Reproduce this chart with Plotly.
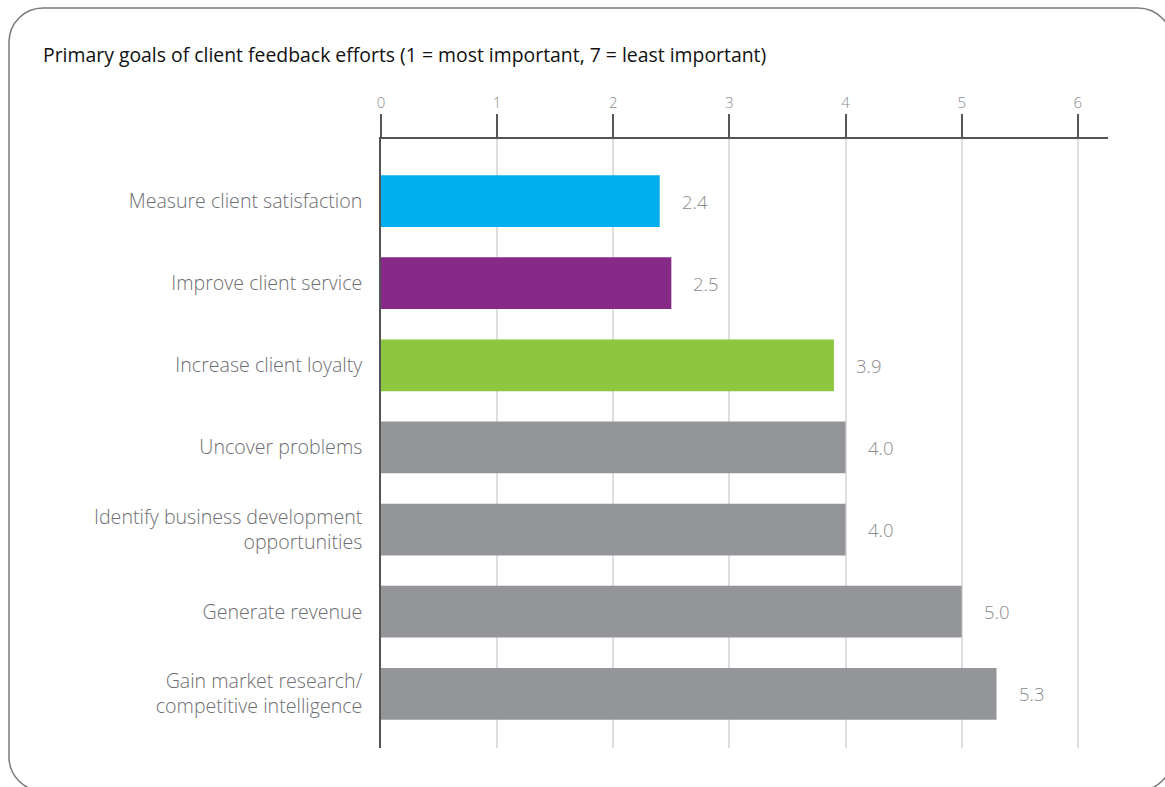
import plotly.graph_objects as go

# Survey results: average rank of each goal (1 = most important)
goals = [
    "Measure client satisfaction",
    "Improve client service",
    "Increase client loyalty",
    "Uncover problems",
    "Identify business development<br>opportunities",
    "Generate revenue",
    "Gain market research/<br>competitive intelligence",
]
avg_rank = [2.4, 2.5, 3.9, 4.0, 4.0, 5.0, 5.3]
bar_colors = ["#00ADEE", "#872A87", "#8DC63F", "#939598", "#939598", "#939598", "#939598"]
x_ticks = [0, 1, 2, 3, 4, 5, 6]

W, H = 1165, 787
L, R, T, B = 381, 1108, 139, 748  # plot area in pixels
FONT = "Open Sans"


def px(x):
    return (x - L) / (R - L)


def py(y):
    return 1 - (y - T) / (B - T)


fig = go.Figure()
fig.add_trace(go.Bar(
    x=avg_rank,
    y=goals,
    orientation="h",
    marker=dict(color=bar_colors, line=dict(width=0)),
    width=0.63,
    hoverinfo="x+y",
))

label_font = dict(family=FONT, size=18.5, color="#8a8b8e", weight=300)
for g, v in zip(goals, avg_rank):
    fig.add_annotation(
        x=v, y=g, text=f"{v:.1f}", showarrow=False,
        xanchor="left", yanchor="middle", xshift=20,
        font=label_font,
    )

# rounded frame around the panel
x0, y0, x1, y1, r = 9, 8, 1172, 791, 34
k = r * 0.5523
pts = [
    ("M", [(x0 + r, y0)]),
    ("L", [(x1 - r, y0)]),
    ("C", [(x1 - r + k, y0), (x1, y0 + r - k), (x1, y0 + r)]),
    ("L", [(x1, y1 - r)]),
    ("C", [(x1, y1 - r + k), (x1 - r + k, y1), (x1 - r, y1)]),
    ("L", [(x0 + r, y1)]),
    ("C", [(x0 + r - k, y1), (x0, y1 - r + k), (x0, y1 - r)]),
    ("L", [(x0, y0 + r)]),
    ("C", [(x0, y0 + r - k), (x0 + r - k, y0), (x0 + r, y0)]),
]
path = ""
for cmd, ps in pts:
    path += cmd + " ".join(f"{px(a):.5f},{py(b):.5f}" for a, b in ps) + " "
path += "Z"
fig.add_shape(type="path", path=path, xref="paper", yref="paper",
              line=dict(color="#7a7a7a", width=1.5), fillcolor="rgba(0,0,0,0)", layer="below")

fig.update_layout(
    width=W, height=H,
    margin=dict(l=L, r=W - R, t=T, b=H - B, pad=0),
    paper_bgcolor="white", plot_bgcolor="white",
    showlegend=False,
    bargap=0.37,
    title=dict(
        text="Primary goals of client feedback efforts (1 = most important, 7 = least important)",
        x=43 / W, y=1 - 55 / H, xref="container", yref="container",
        xanchor="left", yanchor="middle",
        font=dict(family=FONT, size=19.4, color="#111111"),
    ),
    xaxis=dict(
        side="top", range=[0, 6.26], tickvals=x_ticks,
        ticks="outside", ticklen=23, tickwidth=1.5, tickcolor="#555555",
        showline=True, linecolor="#555555", linewidth=1.5,
        showgrid=True, gridcolor="#dedede", gridwidth=1.5,
        zeroline=False,
        tickfont=dict(family=FONT, size=15, color="#8a8b8e", weight=300),
        fixedrange=True,
    ),
    yaxis=dict(
        range=[6.66, -0.755], type="category",
        showline=True, linecolor="#555555", linewidth=1.5,
        showgrid=False, zeroline=False, ticks="",
        ticklabelstandoff=13,
        tickfont=dict(family=FONT, size=19.6, color="#6d6e71", weight=300),
        fixedrange=True,
    ),
)

fig.write_html("out.html")
